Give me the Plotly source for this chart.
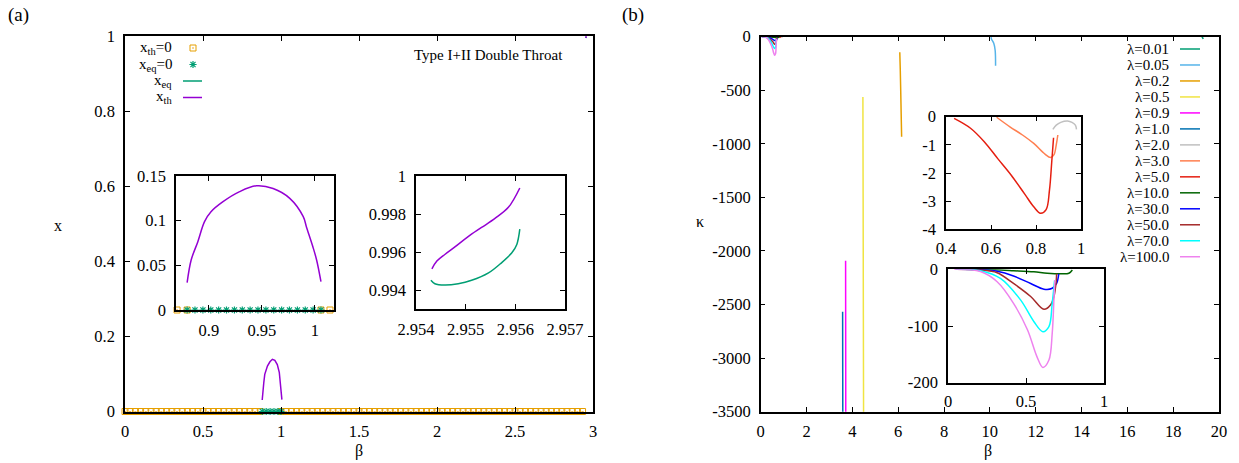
import plotly.graph_objects as go

W, H = 1239, 463
FONT = "Liberation Serif, Times New Roman, serif"

# ---------------- Panel (a) data ----------------
beta_th0_main = [0, 0.033, 0.067, 0.1, 0.133, 0.167, 0.2, 0.233, 0.267, 0.3, 0.333, 0.367, 0.4,
                 0.433, 0.467, 0.5, 0.533, 0.567, 0.6, 0.633, 0.667, 0.7, 0.733, 0.767, 0.8, 0.833,
                 0.867, 1.0, 1.033, 1.067, 1.1, 1.133, 1.167, 1.2, 1.233, 1.267, 1.3, 1.333, 1.367,
                 1.4, 1.433, 1.467, 1.5, 1.533, 1.567, 1.6, 1.633, 1.667, 1.7, 1.733, 1.767, 1.8,
                 1.833, 1.867, 1.9, 1.933, 1.967, 2.0, 2.033, 2.067, 2.1, 2.133, 2.167, 2.2, 2.233,
                 2.267, 2.3, 2.333, 2.367, 2.4, 2.433, 2.467, 2.5, 2.533, 2.567, 2.6, 2.633, 2.667,
                 2.7, 2.733, 2.767, 2.8, 2.833, 2.867, 2.9, 2.933]
x_th0_main = [0.0] * len(beta_th0_main)
beta_eq0_main = [0.88, 0.905, 0.93, 0.955, 0.98, 1.0]
x_eq0_main = [0.0] * len(beta_eq0_main)

beta_th0_inset = [0.870, 0.8795, 1.0057, 1.0142]
x_th0_inset = [0.0, 0.0, 0.0, 0.0]
beta_eq0_inset = [0.8795, 0.8869, 0.8944, 0.9018, 0.9092, 0.9166, 0.9241, 0.9315, 0.9389, 0.9463,
                  0.9538, 0.9612, 0.9686, 0.976, 0.9835, 0.9909, 0.9983, 1.0057]
x_eq0_inset = [0.0] * len(beta_eq0_inset)

beta_th_low = [0.8795, 0.8833, 0.8896, 0.8959, 0.902, 0.913, 0.929, 0.9448, 0.9606, 0.9763,
               0.989, 0.992, 0.998, 1.0016, 1.0057]
x_th_low = [0.0306, 0.056, 0.0765, 0.099, 0.110, 0.121, 0.1325, 0.139, 0.136, 0.125,
            0.1045, 0.093, 0.071, 0.056, 0.0317]

beta_th_high = [2.95432, 2.95442, 2.95458, 2.95479, 2.95505, 2.95532, 2.95559, 2.95586, 2.95609]
x_th_high = [0.99511, 0.99552, 0.99587, 0.99628, 0.99681, 0.99729, 0.99777, 0.99835, 0.99937]
beta_eq_high = [2.9543, 2.95438, 2.95458, 2.95485, 2.95512, 2.95546, 2.95572, 2.95593, 2.95603, 2.95609]
x_eq_high = [0.99451, 0.99433, 0.99426, 0.99433, 0.99451, 0.9949, 0.99543, 0.99596, 0.9964, 0.9972]

legend_a_labels = ["x<sub>th</sub>=0", "x<sub>eq</sub>=0", "x<sub>eq</sub>", "x<sub>th</sub>"]

# ---------------- Panel (b) data ----------------
lam_labels = ["λ=0.01", "λ=0.05", "λ=0.2", "λ=0.5", "λ=0.9", "λ=1.0", "λ=2.0", "λ=3.0",
              "λ=5.0", "λ=10.0", "λ=30.0", "λ=50.0", "λ=70.0", "λ=100.0"]
lam_colors = ["#009e73", "#56b4e9", "#e69f00", "#f0e442", "#ff00ff", "#0072b2", "#c0c0c0",
              "#ff7f50", "#e51e10", "#006400", "#0000ff", "#a52a2a", "#00ffff", "#ee82ee"]

b_l001 = [19.25, 19.28, 19.31]
k_l001 = [-2, -8, -22]
b_l005 = [10.05, 10.07, 10.17, 10.23, 10.25]
k_l005 = [-5, -21, -62, -124, -270]
b_l02 = [6.07, 6.09, 6.11, 6.13, 6.15]
k_l02 = [-146, -300, -500, -720, -933]
b_l05 = [4.46, 4.47, 4.48, 4.49]
k_l05 = [-562, -1500, -2600, -3600]
b_l09 = [3.705, 3.71, 3.713]
k_l09 = [-2092, -3000, -3600]
b_l10 = [3.575, 3.58, 3.583]
k_l10 = [-2568, -3200, -3600]
b_l2 = [0.875, 0.89, 0.91, 0.94, 0.96, 0.975, 0.98]
k_l2 = [-0.45, -0.3, -0.2, -0.15, -0.2, -0.3, -0.45]
b_l3 = [0.625, 0.684, 0.74, 0.79, 0.84, 0.865, 0.88, 0.89, 0.897]
k_l3 = [-0.02, -0.36, -0.65, -0.95, -1.33, -1.45, -1.35, -1.0, -0.65]
b_l5 = [0.436, 0.509, 0.57, 0.63, 0.69, 0.75, 0.79, 0.82, 0.845, 0.86, 0.87, 0.878]
k_l5 = [-0.06, -0.41, -0.89, -1.49, -2.08, -2.75, -3.2, -3.43, -3.3, -2.6, -1.6, -0.75]
b_l10b = [0.1, 0.3, 0.42, 0.55, 0.636, 0.73, 0.775, 0.797]
k_l10b = [0, -0.8, -2.4, -4.5, -7, -8, -7, -1.2]
b_l30 = [0.05, 0.2, 0.315, 0.42, 0.53, 0.615, 0.668, 0.696, 0.71]
k_l30 = [0, -0.4, -3.5, -11.8, -25, -35, -33.5, -25, -8]
b_l50 = [0.05, 0.208, 0.315, 0.42, 0.53, 0.615, 0.657, 0.679, 0.694, 0.696]
k_l50 = [0, -1.2, -6, -25, -48, -70.6, -63, -48, -20, -8]
b_l70 = [0.05, 0.208, 0.336, 0.465, 0.55, 0.608, 0.647, 0.668, 0.683]
k_l70 = [0, -2.4, -16, -54, -92, -110, -101, -60, -20]
b_l100 = [0.04, 0.208, 0.315, 0.42, 0.51, 0.57, 0.608, 0.647, 0.668, 0.679, 0.685]
k_l100 = [0, -4, -22, -60, -107, -154, -173, -160, -113, -54, -19]

b_series = [b_l001, b_l005, b_l02, b_l05, b_l09, b_l10, b_l2, b_l3, b_l5, b_l10b, b_l30, b_l50, b_l70, b_l100]
k_series = [k_l001, k_l005, k_l02, k_l05, k_l09, k_l10, k_l2, k_l3, k_l5, k_l10b, k_l30, k_l50, k_l70, k_l100]

# tick labels
ticks_a_x = [0, 0.5, 1, 1.5, 2, 2.5, 3]
ticks_a_y = [0, 0.2, 0.4, 0.6, 0.8, 1]
ticks_a1_x = [0.9, 0.95, 1]
ticks_a1_y = [0, 0.05, 0.1, 0.15]
ticks_a2_x = [2.954, 2.955, 2.956, 2.957]
ticks_a2_y = [0.994, 0.996, 0.998, 1.0]
ticks_a2_ylab = ["0.994", "0.996", "0.998", "1"]
ticks_b_x = [0, 2, 4, 6, 8, 10, 12, 14, 16, 18, 20]
ticks_b_y = [0, -500, -1000, -1500, -2000, -2500, -3000, -3500]
ticks_b1_x = [0.4, 0.6, 0.8, 1]
ticks_b1_y = [0, -1, -2, -3, -4]
ticks_b2_x = [0, 0.5, 1]
ticks_b2_y = [0, -100, -200]


def lab(v):
    return "%g" % v


def px(x):
    return x / W


def py(y):
    return 1 - y / H


fig = go.Figure()

PURPLE = "#9400d3"
GREEN = "#009e73"
ORANGE = "#e69f00"
SQ = dict(symbol="square-open-dot", size=6, color=ORANGE, line=dict(width=1, color=ORANGE))
ST = dict(symbol="asterisk-open", size=6, color=GREEN, line=dict(width=1.2, color=GREEN))
TICKSIZE = 16.5

# --- panel (a) main
fig.add_trace(go.Scatter(x=beta_th0_main, y=x_th0_main, mode="markers", cliponaxis=False,
                         marker=SQ, xaxis="x", yaxis="y"))
fig.add_trace(go.Scatter(x=beta_eq0_main, y=x_eq0_main, mode="markers", cliponaxis=False,
                         marker=ST, xaxis="x", yaxis="y"))
fig.add_trace(go.Scatter(x=beta_eq_high, y=x_eq_high, mode="lines", line=dict(color=GREEN, width=1.5),
                         xaxis="x", yaxis="y"))
fig.add_trace(go.Scatter(x=beta_th_high, y=x_th_high, mode="lines", line=dict(color=PURPLE, width=1.5),
                         xaxis="x", yaxis="y"))
fig.add_trace(go.Scatter(x=beta_th_low, y=x_th_low, mode="lines", line=dict(color=PURPLE, width=1.5),
                         xaxis="x", yaxis="y"))

# --- panel (a) inset 1
fig.add_trace(go.Scatter(x=beta_th0_inset, y=x_th0_inset, mode="markers", cliponaxis=False,
                         marker=SQ, xaxis="x2", yaxis="y2"))
fig.add_trace(go.Scatter(x=beta_eq0_inset, y=x_eq0_inset, mode="markers", cliponaxis=False,
                         marker=ST, xaxis="x2", yaxis="y2"))
fig.add_trace(go.Scatter(x=beta_th_low, y=x_th_low, mode="lines", line=dict(color=PURPLE, width=1.5, shape="spline"),
                         xaxis="x2", yaxis="y2"))

# --- panel (a) inset 2
fig.add_trace(go.Scatter(x=beta_eq_high, y=x_eq_high, mode="lines", line=dict(color=GREEN, width=1.5, shape="spline"),
                         xaxis="x3", yaxis="y3"))
fig.add_trace(go.Scatter(x=beta_th_high, y=x_th_high, mode="lines", line=dict(color=PURPLE, width=1.5, shape="spline"),
                         xaxis="x3", yaxis="y3"))

# --- panel (b) main + insets
for b, k, c in zip(b_series, k_series, lam_colors):
    fig.add_trace(go.Scatter(x=b, y=k, mode="lines", line=dict(color=c, width=1.5, shape="spline"),
                             xaxis="x4", yaxis="y4"))
for i in (6, 7, 8):
    fig.add_trace(go.Scatter(x=b_series[i], y=k_series[i], mode="lines",
                             line=dict(color=lam_colors[i], width=1.5, shape="spline"),
                             xaxis="x5", yaxis="y5"))
for i in (9, 10, 11, 12, 13):
    fig.add_trace(go.Scatter(x=b_series[i], y=k_series[i], mode="lines",
                             line=dict(color=lam_colors[i], width=1.5, shape="spline"),
                             xaxis="x6", yaxis="y6"))

# --- legend samples on a pixel overlay axis
leg_a_y = [48, 64.5, 81, 97.5]
fig.add_trace(go.Scatter(x=[193], y=[leg_a_y[0]], mode="markers", marker=SQ, xaxis="x7", yaxis="y7"))
fig.add_trace(go.Scatter(x=[193], y=[leg_a_y[1]], mode="markers", marker=ST, xaxis="x7", yaxis="y7"))
fig.add_trace(go.Scatter(x=[183, 202], y=[leg_a_y[2]] * 2, mode="lines", line=dict(color=GREEN, width=1.5),
                         xaxis="x7", yaxis="y7"))
fig.add_trace(go.Scatter(x=[183, 202], y=[leg_a_y[3]] * 2, mode="lines", line=dict(color=PURPLE, width=1.5),
                         xaxis="x7", yaxis="y7"))
annotations = []
for t, yy in zip(legend_a_labels, leg_a_y):
    annotations.append(dict(x=px(174), y=py(yy), xref="paper", yref="paper", text=t, showarrow=False,
                            xanchor="right", yanchor="middle", font=dict(family=FONT, size=15, color="black")))

for i, (t, c) in enumerate(zip(lam_labels, lam_colors)):
    yy = 49 + 15.98 * i
    fig.add_trace(go.Scatter(x=[1180, 1200], y=[yy, yy], mode="lines", line=dict(color=c, width=1.5),
                             xaxis="x7", yaxis="y7"))
    annotations.append(dict(x=px(1171), y=py(yy), xref="paper", yref="paper", text=t, showarrow=False,
                            xanchor="right", yanchor="middle", font=dict(family=FONT, size=15, color="black")))

# other texts
texts = [("(a)", 18, 15, 19, "center"), ("(b)", 633, 15, 19, "center"),
         ("Type I+II Double Throat", 488, 55, 15, "center"),
         ("x", 58, 225, 16, "center"), ("κ", 700, 222, 16, "center"),
         ("β", 359, 451, 16, "center"), ("β", 988, 451, 16, "center")]
for t, xx, yy, s, anc in texts:
    annotations.append(dict(x=px(xx), y=py(yy), xref="paper", yref="paper", text=t, showarrow=False,
                            xanchor=anc, yanchor="middle", font=dict(family=FONT, size=s, color="black")))


def axis(domain, rng, tickvals, ticktext=None, anchor=None, standoff=3):
    if ticktext is None:
        ticktext = [lab(v) for v in tickvals]
    return dict(domain=domain, range=rng, tickvals=tickvals, ticktext=ticktext, anchor=anchor,
                showline=True, linecolor="black", linewidth=1.5, mirror="ticks", ticks="inside",
                ticklen=5, tickwidth=1, tickcolor="black", showgrid=False, zeroline=False,
                automargin=False, fixedrange=True,
                tickfont=dict(family=FONT, size=TICKSIZE, color="black"), ticklabelstandoff=standoff)


layout = dict(
    template="none",
    font=dict(family=FONT, size=15, color="black"),
    width=W, height=H, margin=dict(l=0, r=0, t=0, b=0, pad=0, autoexpand=False),
    plot_bgcolor="rgba(0,0,0,0)", paper_bgcolor="white",
    showlegend=False, annotations=annotations,
    xaxis=axis([px(125), px(593)], [0, 3], ticks_a_x, anchor="y", standoff=4),
    yaxis=axis([py(411.5), py(36)], [0, 1], ticks_a_y, anchor="x", standoff=5),
    xaxis2=axis([px(176), px(334)], [0.869, 1.018], ticks_a1_x, anchor="y2", standoff=4),
    yaxis2=axis([py(310), py(176)], [0, 0.15], ticks_a1_y, anchor="x2", standoff=5),
    xaxis3=axis([px(416), px(565)], [2.954, 2.957], ticks_a2_x, anchor="y3", standoff=4),
    yaxis3=axis([py(309), py(176)], [0.993, 1.0], ticks_a2_y, ticks_a2_ylab, anchor="x3", standoff=5),
    xaxis4=axis([px(760.7), px(1219)], [0, 20], ticks_b_x, anchor="y4", standoff=4),
    yaxis4=axis([py(411.7), py(36.7)], [-3500, 0], ticks_b_y, anchor="x4", standoff=5),
    xaxis5=axis([px(946), px(1081)], [0.4, 1.0], ticks_b1_x, anchor="y5", standoff=3),
    yaxis5=axis([py(229.3), py(116.7)], [-4, 0], ticks_b1_y, anchor="x5", standoff=5),
    xaxis6=axis([px(948), px(1104)], [0, 1], ticks_b2_x, anchor="y6", standoff=3),
    yaxis6=axis([py(382.7), py(269.3)], [-200, 0], ticks_b2_y, anchor="x6", standoff=5),
    xaxis7=dict(domain=[0, 1], range=[0, W], visible=False, anchor="y7", fixedrange=True),
    yaxis7=dict(domain=[0, 1], range=[H, 0], visible=False, anchor="x7", fixedrange=True),
)
fig.update_layout(**layout)
fig.write_html("out.html", config={"displayModeBar": False},
               post_script="document.body.style.margin='0';document.body.style.overflow='hidden';")
